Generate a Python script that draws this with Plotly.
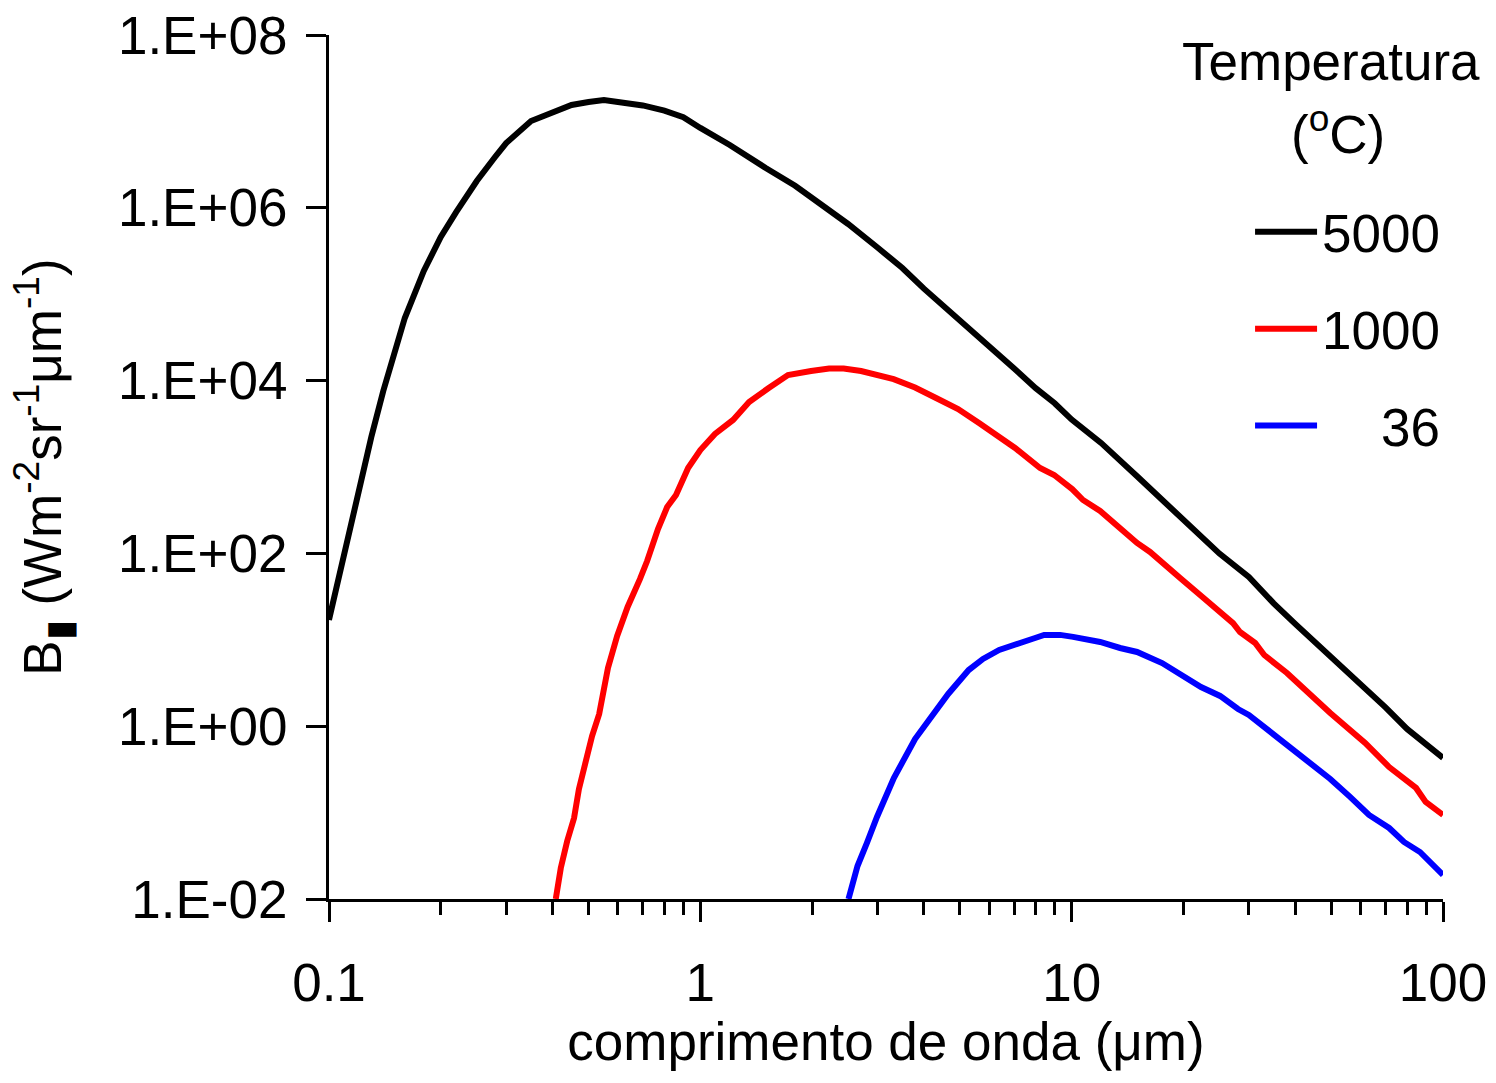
import plotly.graph_objects as go

# ---- data ----
wl_5000 = [0.1, 0.11, 0.12, 0.13, 0.14, 0.15, 0.16, 0.18, 0.2, 0.22, 0.25, 0.28, 0.3, 0.35,
           0.4, 0.45, 0.5, 0.55, 0.6, 0.7, 0.8, 0.9, 1, 1.2, 1.5, 1.8, 2, 2.5, 3, 3.5, 4, 5,
           6, 7, 8, 9, 10, 12, 15, 18, 20, 25, 30, 35, 40, 50, 60, 70, 80, 90, 100]
b_5000 = [17, 101, 474, 2220, 7590, 2.2e4, 5.3e4, 1.86e5, 4.6e5, 8.9e5, 2.04e6, 3.87e6, 5.62e6,
          1.01e7, 1.29e7, 1.55e7, 1.68e7, 1.77e7, 1.68e7, 1.53e7, 1.33e7, 1.12e7, 8.4e6,
          5.33e6, 2.89e6, 1.80e6, 1.30e6, 6.5e5, 3.47e5, 2.01e5, 1.16e5, 5.07e4, 2.51e4,
          1.38e4, 8170, 5470, 3540, 1900, 780, 379, 241, 99.5, 53.3, 26.4, 15.3, 6.34, 3.03,
          1.65, 0.93, 0.62, 0.43]

wl_1000 = [0.408, 0.421, 0.438, 0.457, 0.471, 0.492, 0.511, 0.534, 0.564, 0.597, 0.637, 0.688,
           0.719, 0.769, 0.814, 0.86, 0.927, 1.0, 1.095, 1.225, 1.353, 1.528, 1.722, 1.987,
           2.222, 2.432, 2.709, 3.316, 3.786, 4.313, 4.944, 5.63, 7.04, 8.22, 8.97, 10.03,
           10.73, 11.93, 15.0, 16.26, 17.52, 19.59, 22.5, 27.2, 28.4, 31.2, 33.0, 38.0, 49.7,
           61.7, 71.6, 84.6, 89.8, 94.0, 100]
b_1000 = [0.01, 0.0229, 0.0469, 0.0866, 0.1875, 0.44, 0.77, 1.38, 4.72, 11.1, 24.0, 50.6,
          81.7, 191, 344, 474, 973, 1573, 2410, 3500, 5650, 8210, 11600, 12900,
          13800, 13800, 12900, 10400, 8320, 6290, 4690, 3230, 1660, 973, 808, 556,
          415, 310, 132, 104, 77.4, 51.9, 31.3, 15.6, 12.3, 9.18, 6.67, 4.13, 1.42,
          0.64, 0.337, 0.193, 0.133, 0.116, 0.094]

wl_36 = [2.506, 2.65, 2.81, 2.99, 3.32, 3.786, 4.11, 4.65, 5.28, 5.77, 6.38, 7.22, 7.97, 8.43,
         9.31, 10.09, 11.93, 13.5, 15.0, 17.52, 19.95, 22.3, 25.1, 28.05, 30.0, 33.8, 43.0,
         49.7, 56.2, 63.2, 71.6, 78.5, 86.7, 95.0, 100]
b_36 = [0.01, 0.0241, 0.0445, 0.0889, 0.251, 0.711, 1.15, 2.36, 4.47, 6.0, 7.62, 8.93, 10.5,
        11.4, 11.4, 10.8, 9.43, 8.04, 7.23, 5.38, 3.91, 2.84, 2.24, 1.58, 1.35, 0.904, 0.385,
        0.245, 0.152, 0.094, 0.0664, 0.0457, 0.035, 0.0234, 0.019]

series_names = ["5000", "1000", "\u00a0\u00a0\u00a0\u00a036"]
series_colors = ["#000000", "#ff0000", "#0000ff"]

x_tickvals = [0.1, 1, 10, 100]
x_ticktext = ["0.1", "1", "10", "100"]
x_minor = [0.2, 0.3, 0.4, 0.5, 0.6, 0.7, 0.8, 0.9, 2, 3, 4, 5, 6, 7, 8, 9,
           20, 30, 40, 50, 60, 70, 80, 90]
y_tickvals = [1e-2, 1e0, 1e2, 1e4, 1e6, 1e8]
y_ticktext = ["1.E-02", "1.E+00", "1.E+02", "1.E+04", "1.E+06", "1.E+08"]

FONT = "Liberation Sans, Arial, sans-serif"
FS = 53

fig = go.Figure()
for i, (xs, ys) in enumerate([(wl_5000, b_5000), (wl_1000, b_1000), (wl_36, b_36)]):
    fig.add_trace(go.Scatter(
        x=xs, y=ys, mode="lines", name=series_names[i],
        line=dict(color=series_colors[i], width=6),
        legendgroup="g%d" % i,
    ))

fig.update_layout(
    width=1496, height=1083,
    margin=dict(l=329, r=53, t=35, b=184, autoexpand=False),
    paper_bgcolor="white", plot_bgcolor="white",
    font=dict(family=FONT, size=FS, color="black"),
    showlegend=True,
    legend=dict(
        x=0.8268, y=0.8197, xanchor="left", yanchor="top",
        bgcolor="rgba(0,0,0,0)", borderwidth=0,
        font=dict(family=FONT, size=FS, color="black"),
        itemwidth=62, tracegroupgap=25, traceorder="grouped",
    ),
    xaxis=dict(
        type="log", range=[-1, 2],
        tickvals=x_tickvals, ticktext=x_ticktext,
        ticks="outside", ticklen=20, tickwidth=3, tickcolor="black",
        minor=dict(tickvals=x_minor, ticks="outside", ticklen=13, tickwidth=3, tickcolor="black", showgrid=False),
        showline=True, linewidth=3, linecolor="black",
        showgrid=False, zeroline=False,
        tickfont=dict(family=FONT, size=FS), ticklabelstandoff=15,
        title=dict(text="comprimento de onda (μm)", font=dict(family=FONT, size=FS), standoff=13),
        automargin=False,
    ),
    yaxis=dict(
        type="log", range=[-2, 8],
        tickvals=y_tickvals, ticktext=y_ticktext,
        ticks="outside", ticklen=20, tickwidth=3, tickcolor="black",
        showline=True, linewidth=3, linecolor="black",
        showgrid=False, zeroline=False,
        tickfont=dict(family=FONT, size=FS), ticklabelstandoff=8,
        title=dict(text="B<sub>▮</sub> (Wm<sup>-2</sup>sr<sup>-1</sup>μm<sup>-1</sup>)",
                   font=dict(family=FONT, size=FS), standoff=40),
        automargin=False,
    ),
    annotations=[
        dict(text="Temperatura", xref="paper", yref="paper", x=0.8995, y=0.9688,
             xanchor="center", yanchor="middle", showarrow=False,
             font=dict(family=FONT, size=FS, color="black")),
        dict(text="(<sup>o</sup>C)", xref="paper", yref="paper", x=0.9057, y=0.889,
             xanchor="center", yanchor="middle", showarrow=False,
             font=dict(family=FONT, size=FS, color="black")),
    ],
)

fig.write_html("out.html")
